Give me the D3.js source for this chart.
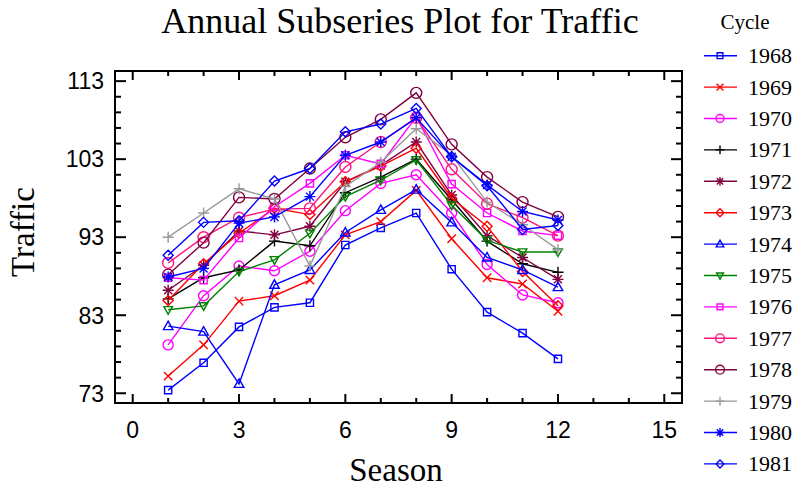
<!DOCTYPE html>
<html>
<head>
<meta charset="utf-8">
<script src="https://cdn.jsdelivr.net/npm/d3@7"></script>
<style>
  body { margin: 0; background: #fff; }
</style>
</head>
<body>
<svg id="chart" width="793" height="487"></svg>
<script>
const seasons = [1, 2, 3, 4, 5, 6, 7, 8, 9, 10, 11, 12]
const cycles = ['1968', '1969', '1970', '1971', '1972', '1973', '1974',
                '1975', '1976', '1977', '1978', '1979', '1980', '1981']

const traffic1968 = [73.4, 76.9, 81.5, 84.0, 84.6, 92.0, 94.2, 96.1, 88.9, 83.4, 80.7, 77.4]
const traffic1969 = [75.2, 79.2, 84.8, 85.5, 87.5, 93.3, 95.0, 99.0, 92.8, 87.8, 87.0, 83.5]
const traffic1970 = [79.2, 85.5, 89.3, 88.7, 91.2, 96.4, 99.9, 101.0, 96.1, 89.5, 85.6, 84.6]
const traffic1971 = [85.1, 87.8, 88.8, 92.5, 91.9, 98.7, 100.7, 103.0, 97.8, 92.5, 89.6, 88.5]
const traffic1972 = [86.2, 89.4, 93.8, 93.3, 94.4, 100.1, 102.2, 105.2, 98.4, 93.2, 90.4, 87.6]
const traffic1973 = [84.9, 89.6, 93.5, 96.7, 95.9, 100.1, 102.1, 104.4, 98.0, 94.4, 88.6, 84.2]
const traffic1974 = [81.6, 80.9, 74.2, 86.9, 88.8, 93.6, 96.5, 99.1, 94.9, 90.4, 88.8, 86.6]
const traffic1975 = [83.7, 84.2, 88.6, 90.1, 93.5, 98.2, 100.3, 102.9, 97.1, 92.6, 91.1, 91.1]
const traffic1976 = [87.8, 87.5, 92.9, 96.9, 99.9, 103.5, 102.4, 108.4, 99.8, 96.1, 93.8, 93.2]
const traffic1977 = [89.7, 93.0, 95.5, 96.6, 96.7, 102.0, 105.2, 108.3, 101.7, 97.3, 95.5, 93.2]
const traffic1978 = [88.2, 92.3, 98.1, 97.9, 101.8, 105.8, 108.1, 111.5, 104.9, 100.7, 97.5, 95.6]
const traffic1979 = [93.0, 96.1, 99.2, 97.9, 89.3, 99.5, 102.6, 106.9, 103.5, 97.5, 94.6, 91.4]
const traffic1980 = [87.9, 89.0, 94.8, 95.6, 98.2, 103.5, 105.2, 108.3, 103.3, 99.7, 96.3, 95.2]
const traffic1981 = [90.7, 94.9, 95.1, 100.2, 101.8, 106.5, 107.5, 109.5, 103.3, 99.6, 94.0, 94.5]

const xTicks = [0, 3, 6, 9, 12, 15]
const yTicks = [73, 83, 93, 103, 113]

const values = [traffic1968, traffic1969, traffic1970, traffic1971, traffic1972, traffic1973, traffic1974,
                traffic1975, traffic1976, traffic1977, traffic1978, traffic1979, traffic1980, traffic1981]

const colors = ['#0000ff', '#ff0000', '#ff00ff', '#000000', '#800040', '#ff0000', '#0000ff',
                '#008000', '#ff00ff', '#ff1480', '#800040', '#999999', '#0000ff', '#0000ff']
const markers = ['square', 'cross', 'circle', 'plus', 'star', 'diamond', 'triUp',
                 'triDown', 'square', 'circleBig', 'circleBig', 'plus', 'star', 'diamond']

const series = cycles.map((c, i) => ({
    name: c,
    color: colors[i],
    marker: markers[i],
    points: seasons.map((s, j) => ({s: s, v: values[i][j]}))
}))

const svg = d3.select('#chart')
const frame = {left: 115, right: 682, top: 71, bottom: 403}

const x = d3.scaleLinear().domain([-0.5, 15.5]).range([frame.left, frame.right])
const y = d3.scaleLinear().domain([71.75, 114.3]).range([frame.bottom, frame.top])

// marker shapes, k = scale
function markerPath(type, k) {
    const p = d3.path()
    if (type === 'square') {
        const h = 3.6 * k
        p.rect(-h, -h, 2 * h, 2 * h)
    } else if (type === 'cross') {
        const h = 4.2 * k
        p.moveTo(-h, -h); p.lineTo(h, h)
        p.moveTo(-h, h); p.lineTo(h, -h)
    } else if (type === 'circle' || type === 'circleBig') {
        const r = (type === 'circle' ? 5 : 5.5) * k
        p.moveTo(r, 0); p.arc(0, 0, r, 0, 2 * Math.PI)
    } else if (type === 'plus') {
        const h = 5.5 * k
        p.moveTo(-h, 0); p.lineTo(h, 0)
        p.moveTo(0, -h); p.lineTo(0, h)
    } else if (type === 'star') {
        const h = 5.5 * k, d = 4 * k
        p.moveTo(-h, 0); p.lineTo(h, 0)
        p.moveTo(0, -h); p.lineTo(0, h)
        p.moveTo(-d, -d); p.lineTo(d, d)
        p.moveTo(-d, d); p.lineTo(d, -d)
    } else if (type === 'diamond') {
        const h = 5 * k
        p.moveTo(0, -h); p.lineTo(h, 0); p.lineTo(0, h); p.lineTo(-h, 0); p.closePath()
    } else if (type === 'triUp') {
        const h = 5 * k
        p.moveTo(0, -h); p.lineTo(h * 0.95, h * 0.7); p.lineTo(-h * 0.95, h * 0.7); p.closePath()
    } else if (type === 'triDown') {
        const h = 4.5 * k
        p.moveTo(0, h); p.lineTo(h * 0.95, -h * 0.7); p.lineTo(-h * 0.95, -h * 0.7); p.closePath()
    }
    return p.toString()
}

// series lines + markers
const line = d3.line().x((d) => x(d.s)).y((d) => y(d.v))

const g = svg.append('g').attr('class', 'series')
series.forEach((sr) => {
    const sg = g.append('g')
    sg.append('path')
        .attr('d', line(sr.points))
        .attr('fill', 'none')
        .attr('stroke', sr.color)
        .attr('stroke-width', 1.4)
    sg.selectAll('path.mark')
        .data(sr.points).enter()
        .append('path')
            .attr('class', 'mark')
            .attr('transform', (d) => `translate(${x(d.s)},${y(d.v)})`)
            .attr('d', markerPath(sr.marker, 1))
            .attr('fill', 'none')
            .attr('stroke', sr.color)
            .attr('stroke-width', 1.4)
})

// frame and ticks (inward)
const xMinor = d3.range(0, 16, 1).filter((v) => xTicks.indexOf(v) < 0)
const yMinor = d3.range(73, 114, 2).filter((v) => yTicks.indexOf(v) < 0)

const axes = svg.append('g').attr('stroke', '#000').attr('stroke-width', 2)
axes.append('rect')
    .attr('x', frame.left).attr('y', frame.top)
    .attr('width', frame.right - frame.left).attr('height', frame.bottom - frame.top)
    .attr('fill', 'none')

const tickSets = [
    {vals: xTicks, len: 9}, {vals: xMinor, len: 5}
]
tickSets.forEach((t) => {
    axes.selectAll(null).data(t.vals).enter().append('line')
        .attr('x1', (d) => x(d)).attr('x2', (d) => x(d))
        .attr('y1', frame.bottom).attr('y2', frame.bottom - t.len)
    axes.selectAll(null).data(t.vals).enter().append('line')
        .attr('x1', (d) => x(d)).attr('x2', (d) => x(d))
        .attr('y1', frame.top).attr('y2', frame.top + t.len)
})
const yTickSets = [
    {vals: yTicks, len: 11}, {vals: yMinor, len: 6}
]
yTickSets.forEach((t) => {
    axes.selectAll(null).data(t.vals).enter().append('line')
        .attr('y1', (d) => y(d)).attr('y2', (d) => y(d))
        .attr('x1', frame.left).attr('x2', frame.left + t.len)
    axes.selectAll(null).data(t.vals).enter().append('line')
        .attr('y1', (d) => y(d)).attr('y2', (d) => y(d))
        .attr('x1', frame.right).attr('x2', frame.right - t.len)
})

// tick labels
svg.append('g').selectAll('text').data(xTicks).enter().append('text')
    .attr('x', (d) => x(d)).attr('y', 438)
    .attr('text-anchor', 'middle')
    .style('font', '23px "Liberation Sans", Arial, sans-serif')
    .text((d) => d)

svg.append('g').selectAll('text').data(yTicks).enter().append('text')
    .attr('x', 104).attr('y', (d) => y(d))
    .attr('dy', '0.36em')
    .attr('text-anchor', 'end')
    .style('font', '23px "Liberation Sans", Arial, sans-serif')
    .text((d) => d)

// titles
svg.append('text')
    .attr('x', 400).attr('y', 33)
    .attr('text-anchor', 'middle')
    .style('font', '36px "Liberation Serif", "Times New Roman", serif')
    .text('Annual Subseries Plot for Traffic')

svg.append('text')
    .attr('x', 396).attr('y', 481)
    .attr('text-anchor', 'middle')
    .style('font', '33px "Liberation Serif", "Times New Roman", serif')
    .text('Season')

svg.append('text')
    .attr('transform', 'translate(34,232) rotate(-90)')
    .attr('text-anchor', 'middle')
    .style('font', '33px "Liberation Serif", "Times New Roman", serif')
    .text('Traffic')

// legend
const legend = svg.append('g').attr('class', 'legend')
legend.append('text')
    .attr('x', 745).attr('y', 29)
    .attr('text-anchor', 'middle')
    .style('font', '21px "Liberation Serif", "Times New Roman", serif')
    .text('Cycle')

const rows = legend.selectAll('g.row').data(series).enter()
    .append('g')
        .attr('class', 'row')
        .attr('transform', (d, i) => `translate(0,${55.7 + i * 31.4})`)
rows.append('line')
    .attr('x1', 704).attr('x2', 737)
    .attr('stroke', (d) => d.color).attr('stroke-width', 1.4)
rows.append('path')
    .attr('transform', 'translate(720,0)')
    .attr('d', (d) => markerPath(d.marker, 0.8))
    .attr('fill', 'none')
    .attr('stroke', (d) => d.color).attr('stroke-width', 1.4)
rows.append('text')
    .attr('x', 748).attr('y', 7.5)
    .style('font', '22px "Liberation Serif", "Times New Roman", serif')
    .text((d) => d.name)
</script>
</body>
</html>
